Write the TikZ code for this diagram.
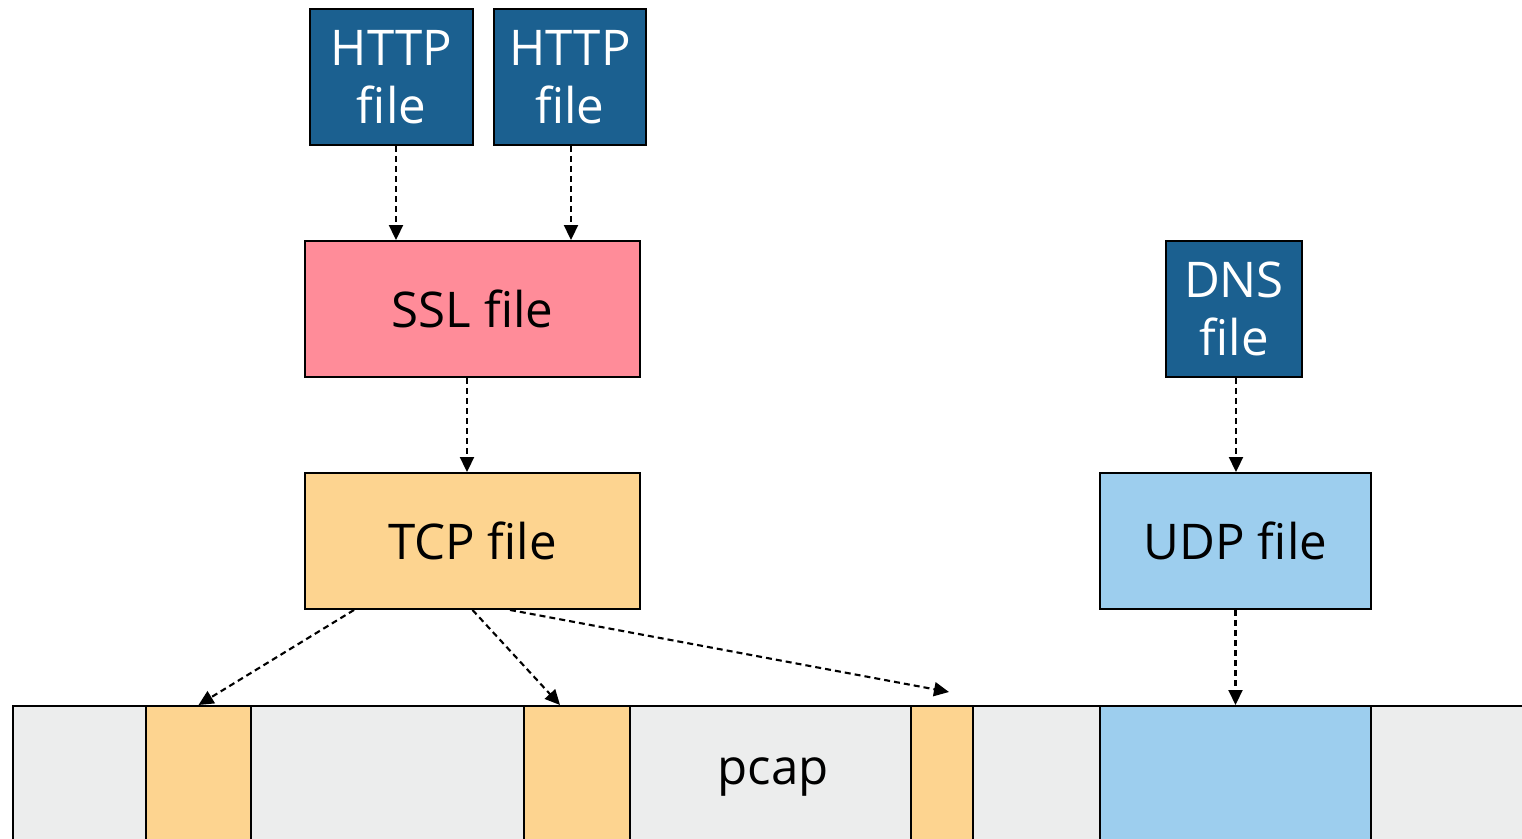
\documentclass[tikz,border=0pt]{standalone}
\usepackage{fontspec}
\setmainfont{Open Sans}
\usepackage{tikz}
\usetikzlibrary{positioning,arrows.meta,calc}
\definecolor{httpBlue}{HTML}{1B6090}
\definecolor{sslPink}{HTML}{FF8C99}
\definecolor{tcpOrange}{HTML}{FDD490}
\definecolor{udpBlue}{HTML}{9DCEEE}
\definecolor{pcapGray}{HTML}{ECEDED}

\begin{document}
\begin{tikzpicture}[
        box/.style={draw=black, line width=1.1pt, align=center, inner sep=0pt, font=\fontsize{28}{33}\selectfont, minimum height=2.72cm},
        app/.style={box, fill=httpBlue, text=white},
        seg/.style={draw=black, line width=1.1pt, inner sep=0pt, minimum height=3.4cm},
        arr/.style={-{Triangle[length=0.3cm, width=0.28cm]}, line width=1.2pt, dash pattern=on 3.4pt off 2.3pt}
    ]
        \useasboundingbox (0,0) rectangle (30.44,-16.78);
        \clip (0,0) rectangle (30.44,-16.78);

        % Ficheros de aplicación (arriba)
        \node[app, minimum width=3.26cm] (http1) at (7.83,-1.54) {HTTP\\file};
        \node[app, minimum width=3.04cm] (http2) at (11.40,-1.54) {HTTP\\file};
        \node[app, minimum width=2.72cm] (dns) at (24.68,-6.18) {DNS\\file};

        % Ficheros de sesión y transporte
        \node[box, fill=sslPink, minimum width=6.7cm] (ssl) at (9.45,-6.18) {SSL file};
        \node[box, fill=tcpOrange, minimum width=6.7cm] (tcp) at (9.45,-10.82) {TCP file};
        \node[box, fill=udpBlue, minimum width=5.42cm] (udp) at (24.71,-10.82) {UDP file};

        % Captura completa (abajo, cortada por el borde)
        \node[seg, fill=pcapGray, minimum width=30.7cm, anchor=north west] (pcap) at (0.24,-14.1) {};
        \node[seg, fill=tcpOrange, minimum width=2.1cm, anchor=north] (seg1) at (3.97,-14.1) {};
        \node[seg, fill=tcpOrange, minimum width=2.12cm, anchor=north] (seg2) at (11.54,-14.1) {};
        \node[seg, fill=tcpOrange, minimum width=1.24cm, anchor=north] (seg3) at (18.84,-14.1) {};
        \node[seg, fill=udpBlue, minimum width=5.42cm, anchor=north] (useg) at (24.71,-14.1) {};
        \node[font=\fontsize{28}{33}\selectfont] (pcaplbl) at (15.46,-15.55) {pcap};

        % Encapsulado (flechas discontinuas)
        \draw[arr] ([xshift=0.09cm]http1.south) -- ([xshift=0.09cm]http1.south |- ssl.north);
        \draw[arr] ([xshift=0.02cm]http2.south) -- ([xshift=0.02cm]http2.south |- ssl.north);
        \draw[arr] ([xshift=-0.11cm]ssl.south) -- ([xshift=-0.11cm]tcp.north);
        \draw[arr] ([xshift=0.04cm]dns.south) -- ([xshift=0.04cm]dns.south |- udp.north);
        \draw[arr] (udp) -- (useg);

        % Segmentos TCP dentro de la captura
        \coordinate (tip3) at ([xshift=0.14cm, yshift=0.26cm]seg3.north);
        \draw[arr] ([xshift=1cm]tcp.south west) -- (seg1.north);
        \draw[arr] (tcp.south) -- ([xshift=0.74cm]seg2.north west);
        \draw[arr] ([xshift=0.75cm]tcp.south) -- (tip3);
    \end{tikzpicture}
\end{document}
